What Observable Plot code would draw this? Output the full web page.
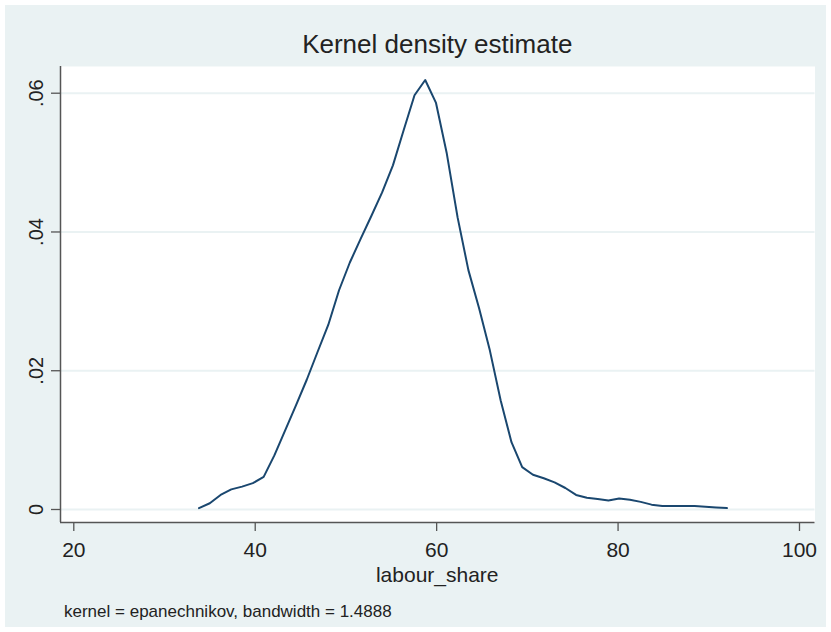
<!DOCTYPE html>
<html><head><meta charset="utf-8">
<script src="https://cdn.jsdelivr.net/npm/d3@7"></script>
<script src="https://cdn.jsdelivr.net/npm/@observablehq/plot@0.6"></script>
<style>
body{margin:0;background:#fff;}
#wrap{position:relative;width:831px;height:632px;background:#fff;font-family:"Liberation Sans",Arial,sans-serif;overflow:hidden;color:#222}
#bg{position:absolute;left:5px;top:5px;width:821px;height:622px;background:#eaf2f3}
.t{position:absolute;line-height:1;white-space:nowrap}
#title{left:60px;width:754.5px;top:31px;text-align:center;font-size:26px}
#xlabel{left:60px;width:754.5px;top:564px;text-align:center;font-size:21px}
#caption{left:64px;top:602.6px;font-size:17px}
#chart{position:absolute;left:0;top:0}
</style></head>
<body>
<div id="wrap">
  <div id="bg"></div>
  <div id="chart"></div>
  <div class="t" id="title">Kernel density estimate</div>
  <div class="t" id="xlabel">labour_share</div>
  <div class="t" id="caption">kernel = epanechnikov, bandwidth = 1.4888</div>
</div>
<script>
const labourShare = [33.80,34.99,36.18,37.36,38.55,39.74,40.93,42.11,43.30,44.49,
  45.68,46.87,48.05,49.24,50.43,51.62,52.80,53.99,55.18,56.37,
  57.56,58.74,59.93,61.12,62.31,63.50,64.68,65.87,67.06,68.25,
  69.43,70.62,71.81,73.00,74.19,75.37,76.56,77.75,78.94,80.12,
  81.31,82.50,83.69,84.88,86.06,87.25,88.44,89.63,90.81,92.00];
const density = [0.0002,0.0009,0.0021,0.0029,0.0033,0.0038,0.0047,0.0078,0.0114,0.0150,
  0.0187,0.0227,0.0266,0.0316,0.0356,0.0390,0.0423,0.0457,0.0496,0.0547,
  0.0597,0.0619,0.0586,0.0513,0.0421,0.0345,0.0290,0.0229,0.0157,0.0097,
  0.0061,0.0050,0.0045,0.0039,0.0031,0.0021,0.0017,0.0015,0.0013,0.0016,
  0.0014,0.0011,0.0007,0.0005,0.0005,0.0005,0.0005,0.0004,0.0003,0.0002];
const xTicks = [20, 40, 60, 80, 100];
const yTicks = [0, 0.02, 0.04, 0.06];
const yTickLabels = ["0", ".02", ".04", ".06"];

const data = labourShare.map((x, i) => ({x, y: density[i]}));
const xDom = [18.534, 101.71];
const yDom = [-0.001874, 0.06385];

const plot = Plot.plot({
  width: 831, height: 632,
  marginLeft: 60, marginRight: 16.5, marginTop: 66, marginBottom: 110,
  style: {background: "transparent", fontFamily: "'Liberation Sans', Arial, sans-serif", color: "#222"},
  x: {domain: xDom},
  y: {domain: yDom},
  marks: [
    Plot.frame({fill: "white", stroke: null}),
    Plot.ruleY(yTicks, {stroke: "#eaf2f3", strokeWidth: 2}),
    Plot.line(data, {x: "x", y: "y", stroke: "#1a476f", strokeWidth: 2}),
    Plot.axisX({ticks: xTicks, tickSize: 9, tickPadding: 11, fontSize: 21, stroke: "#555", strokeWidth: 1.3, fill: "#222", label: null}),
    Plot.axisY({ticks: yTicks, tickFormat: d => yTickLabels[yTicks.indexOf(d)], tickRotate: -90, tickSize: 9, tickPadding: 9, fontSize: 20, stroke: "#555", strokeWidth: 1.3, fill: "#222", label: null}),
    Plot.ruleX([xDom[0]], {stroke: "#555", strokeWidth: 1.5}),
    Plot.ruleY([yDom[0]], {stroke: "#555", strokeWidth: 1.5})
  ]
});
document.getElementById("chart").appendChild(plot);
</script>
</body></html>
